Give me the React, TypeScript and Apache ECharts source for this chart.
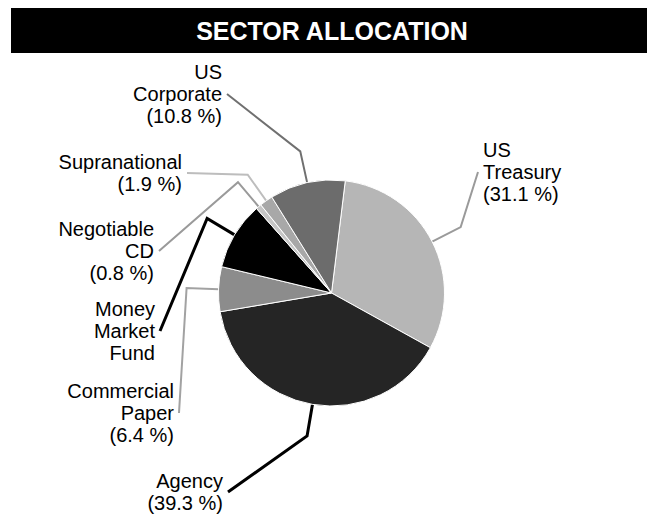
import React, { useEffect, useRef } from "react";
import * as echarts from "echarts";

// ---- data ----
const titleText = "SECTOR ALLOCATION";
const sectors = [
  "US Treasury",
  "Agency",
  "Commercial Paper",
  "Money Market Fund",
  "Negotiable CD",
  "Supranational",
  "US Corporate",
];
const labelWords = [
  ["US", "Treasury"],
  ["Agency"],
  ["Commercial", "Paper"],
  ["Money", "Market", "Fund"],
  ["Negotiable", "CD"],
  ["Supranational"],
  ["US", "Corporate"],
];
const shares = [31.1, 39.3, 6.4, 9.7, 0.8, 1.9, 10.8];
const showShare = [true, true, true, false, true, true, true];

// ---- styles / layout ----
const sliceColors = ["#b6b6b6", "#252525", "#8c8c8c", "#000000", "#c6c6c6", "#a8a8a8", "#6c6c6c"];
const leaderColors = ["#9a9a9a", "#000000", "#a2a2a2", "#000000", "#9a9a9a", "#bdbdbd", "#707070"];
const leaderWidths = [2, 3, 2, 3, 2, 2, 2];
const labelAnchors: { x: number; y: number; align: "left" | "right" }[] = [
  { x: 483, y: 172, align: "left" },
  { x: 223, y: 492, align: "right" },
  { x: 174, y: 413, align: "right" },
  { x: 155, y: 331, align: "right" },
  { x: 154, y: 251, align: "right" },
  { x: 182, y: 173, align: "right" },
  { x: 222, y: 94, align: "right" },
];
const FONT = "'Liberation Sans', Arial, Helvetica, sans-serif";

export default function App() {
  const ref = useRef<HTMLDivElement>(null);
  useEffect(() => {
    if (!ref.current) return;
    const chart = echarts.init(ref.current, undefined, { renderer: "svg" });
    const data = sectors.map((name, i) => ({
      name,
      value: shares[i],
      itemStyle: { color: sliceColors[i] },
      labelLine: { lineStyle: { color: leaderColors[i], width: leaderWidths[i] } },
    }));
    chart.setOption({
      animation: false,
      backgroundColor: "#ffffff",
      graphic: [
        {
          type: "rect",
          shape: { x: 11, y: 8, width: 636, height: 45 },
          style: { fill: "#000000" },
          silent: true,
        },
        {
          type: "text",
          x: 332,
          y: 31,
          style: {
            text: titleText,
            fill: "#ffffff",
            font: `bold 25px ${FONT}`,
            align: "center",
            verticalAlign: "middle",
          },
          silent: true,
        },
      ],
      series: [
        {
          type: "pie",
          center: [331.5, 293],
          radius: 113,
          startAngle: 83,
          clockwise: true,
          avoidLabelOverlap: false,
          data,
          itemStyle: { borderColor: "#ffffff", borderWidth: 1 },
          emphasis: { disabled: true },
          label: {
            show: true,
            position: "outside",
            color: "#000000",
            fontFamily: FONT,
            fontSize: 20,
            lineHeight: 22,
            formatter: (p: any) => {
              const i = p.dataIndex;
              const lines = [...labelWords[i]];
              if (showShare[i]) lines.push(`(${shares[i].toFixed(1)} %)`);
              return lines.join("\n");
            },
          },
          labelLine: { show: true, length: 32, length2: 8, smooth: false },
          labelLayout: (params: any) => {
            const a = labelAnchors[params.dataIndex];
            const pts = params.labelLinePoints;
            const endX = a.align === "left" ? a.x - 5 : a.x + 5;
            const res: any = {
              x: a.x,
              y: a.y,
              align: a.align,
              verticalAlign: "middle",
            };
            if (pts && pts.length >= 2) {
              res.labelLinePoints = [pts[0], pts[1], [endX, a.y]];
            }
            return res;
          },
        },
      ],
    });
    return () => chart.dispose();
  }, []);
  return (
    <div
      ref={ref}
      style={{ position: "fixed", left: 0, top: 0, width: 647, height: 528, background: "#fff" }}
    />
  );
}
